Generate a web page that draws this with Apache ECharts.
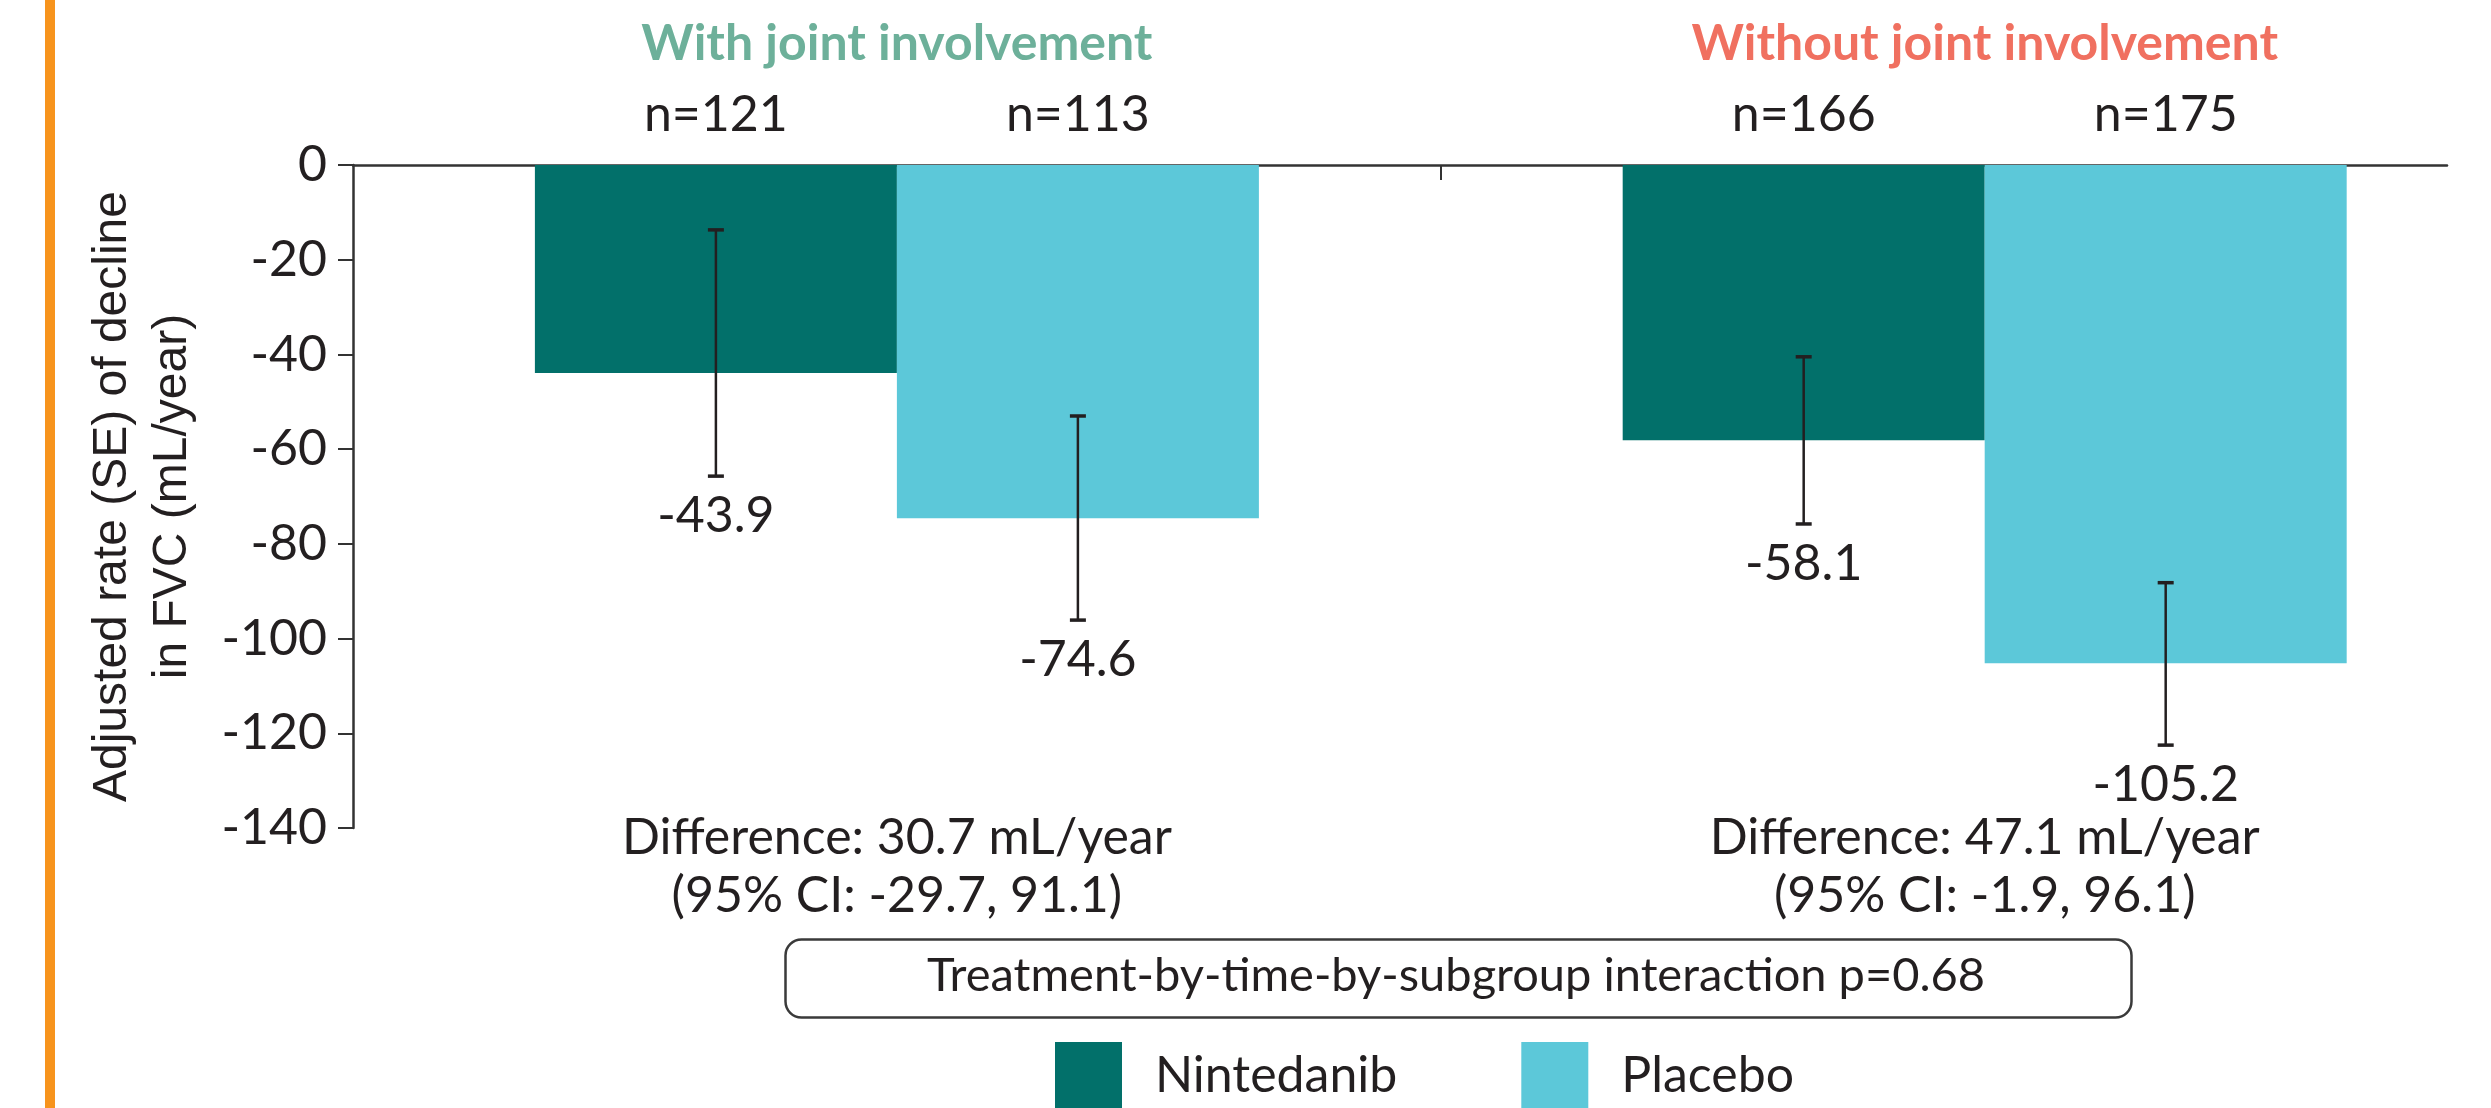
<!DOCTYPE html>
<html>
<head>
<meta charset="utf-8">
<script src="https://cdn.jsdelivr.net/npm/echarts@6/dist/echarts.min.js"></script>
<style>
  html, body { margin: 0; padding: 0; background: #ffffff; }
  #chart { width: 2491px; height: 1108px; }
</style>
</head>
<body>
<div id="chart"></div>
<script>
// Subgroups along the x axis (placed at 1 and 2 on a value axis)
const groups = ['With joint involvement', 'Without joint involvement'];
const groupColors = ['#6DB09A', '#F07060'];
const groupPos = [1, 2];

// Treatment arms
const treatments = ['Nintedanib', 'Placebo'];
const armColors = ['#02706A', '#5CC8D9'];

// Adjusted rate of decline in FVC (mL/year)
const nintedanibRate = [-43.9, -58.1];
const placeboRate = [-74.6, -105.2];

// Error bar ends [upper, lower]
const nintedanibErr = [[-13.7, -65.7], [-40.5, -75.8]];
const placeboErr = [[-53.0, -96.1], [-88.2, -122.5]];

// Patients per arm
const nintedanibN = [121, 166];
const placeboN = [113, 175];

// Between-arm comparisons
const differences = ['Difference: 30.7 mL/year', 'Difference: 47.1 mL/year'];
const confidence = ['(95% CI: -29.7, 91.1)', '(95% CI: -1.9, 96.1)'];
const interactionNote = 'Treatment-by-time-by-subgroup interaction p=0.68';

// Value axis ticks
const yMin = -140, yMax = 0, yStep = 20;

const TEXT = '#231F20';
const AXIS = '#333333';
const FONT = 'Lato, "Liberation Sans", sans-serif';
const BAR_W = 362;
const CAP_W = 16;

const chart = echarts.init(document.getElementById('chart'), null, { renderer: 'canvas' });

// One row per bar: [group position, mean, upper, lower, n, side]
const armRows = [];
[nintedanibRate, placeboRate].forEach(function (rates, arm) {
  const errs = arm === 0 ? nintedanibErr : placeboErr;
  const ns = arm === 0 ? nintedanibN : placeboN;
  rates.forEach(function (v, g) {
    armRows.push([groupPos[g], v, errs[g][0], errs[g][1], ns[g], arm === 0 ? -1 : 1]);
  });
});

function renderArmMarks(params, api) {
  const x = api.value(0);
  const mean = api.value(1);
  const hi = api.value(2);
  const lo = api.value(3);
  const n = api.value(4);
  const side = api.value(5);
  const zero = api.coord([x, 0]);
  const cx = zero[0] + side * BAR_W / 2;
  const yHi = api.coord([x, hi])[1];
  const yLo = api.coord([x, lo])[1];
  const textStyle = { fill: TEXT, fontSize: 50, fontFamily: FONT, align: 'center', verticalAlign: 'middle' };
  return {
    type: 'group',
    children: [
      { type: 'line', shape: { x1: cx, y1: yHi, x2: cx, y2: yLo }, style: { stroke: TEXT, lineWidth: 2.5 } },
      { type: 'line', shape: { x1: cx - CAP_W / 2, y1: yHi, x2: cx + CAP_W / 2, y2: yHi }, style: { stroke: TEXT, lineWidth: 3.5 } },
      { type: 'line', shape: { x1: cx - CAP_W / 2, y1: yLo, x2: cx + CAP_W / 2, y2: yLo }, style: { stroke: TEXT, lineWidth: 3.5 } },
      { type: 'text', x: cx, y: yLo + 40, style: Object.assign({ text: mean.toFixed(1) }, textStyle) },
      { type: 'text', x: cx, y: zero[1] - 50, style: Object.assign({ text: 'n=' + n }, textStyle) }
    ]
  };
}

function renderGroupText(params, api) {
  const g = params.dataIndex;
  const x = api.value(0);
  const top = api.coord([x, yMax]);
  const bottom = api.coord([x, yMin]);
  const base = { fill: TEXT, fontSize: 50, fontFamily: FONT, align: 'center', verticalAlign: 'middle' };
  return {
    type: 'group',
    children: [
      { type: 'text', x: top[0], y: top[1] - 121,
        style: Object.assign({}, base, { text: groups[g], fill: groupColors[g], fontWeight: 'bold' }) },
      { type: 'text', x: bottom[0], y: bottom[1] + 10, style: Object.assign({}, base, { text: differences[g] }) },
      { type: 'text', x: bottom[0], y: bottom[1] + 68, style: Object.assign({}, base, { text: confidence[g] }) }
    ]
  };
}

const option = {
  animation: false,
  backgroundColor: '#ffffff',
  grid: { left: 353, right: 44, top: 165, bottom: 280, containLabel: false },
  xAxis: {
    type: 'value',
    min: 0.5,
    max: 2.425,
    axisLine: { show: true, onZero: true, lineStyle: { color: AXIS, width: 2.5 } },
    axisTick: { show: true, customValues: [1.5], length: 15, lineStyle: { color: AXIS, width: 2 } },
    axisLabel: { show: false },
    splitLine: { show: false }
  },
  yAxis: {
    type: 'value',
    min: yMin,
    max: yMax,
    interval: yStep,
    name: 'Adjusted rate (SE) of decline\nin FVC (mL/year)',
    nameLocation: 'middle',
    nameRotate: 90,
    nameGap: 210,
    nameTextStyle: {
      color: TEXT, fontSize: 48, fontFamily: '"Liberation Sans", Arial, sans-serif',
      lineHeight: 60, align: 'center', verticalAlign: 'middle'
    },
    axisLine: { show: true, lineStyle: { color: AXIS, width: 2.5 } },
    axisTick: { show: true, length: 15, lineStyle: { color: AXIS, width: 2 } },
    axisLabel: { color: TEXT, fontSize: 50, fontFamily: FONT, margin: 26 },
    splitLine: { show: false }
  },
  legend: {
    data: treatments,
    left: 1055,
    top: 1042,
    padding: 0,
    itemWidth: 67,
    itemHeight: 67,
    itemGap: 124,
    icon: 'rect',
    textStyle: { color: TEXT, fontSize: 50, fontFamily: FONT, padding: [0, 0, 0, 28] }
  },
  graphic: [
    { type: 'rect', left: 45, top: 0, shape: { width: 10, height: 1108 }, style: { fill: '#F7941D' } },
    { type: 'rect', left: 783, top: 937, shape: { width: 1346, height: 78, r: 16 },
      style: { fill: 'none', stroke: '#3A3A3A', lineWidth: 2.5 } },
    { type: 'text', x: 1456, y: 976,
      style: { text: interactionNote, fill: TEXT, fontSize: 47, fontFamily: FONT, align: 'center', verticalAlign: 'middle' } }
  ],
  series: [
    {
      name: treatments[0], type: 'bar', barWidth: BAR_W, barGap: '0%',
      itemStyle: { color: armColors[0] },
      data: groupPos.map(function (p, i) { return [p, nintedanibRate[i]]; })
    },
    {
      name: treatments[1], type: 'bar', barWidth: BAR_W, barGap: '0%',
      itemStyle: { color: armColors[1] },
      data: groupPos.map(function (p, i) { return [p, placeboRate[i]]; })
    },
    {
      name: 'arm marks', type: 'custom', renderItem: renderArmMarks, z: 5, silent: true,
      data: armRows
    },
    {
      name: 'group text', type: 'custom', renderItem: renderGroupText, z: 5, silent: true,
      data: groupPos.map(function (p) { return [p, 0]; })
    }
  ]
};

chart.setOption(option);
</script>
</body>
</html>
